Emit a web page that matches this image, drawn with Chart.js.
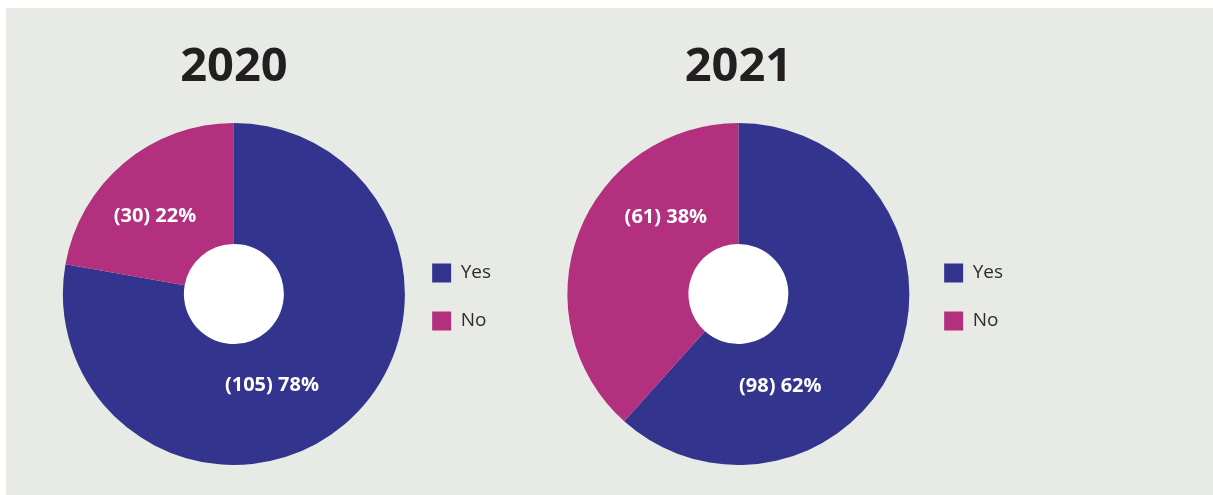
<!DOCTYPE html>
<html>
<head>
<meta charset="utf-8">
<script src="https://cdn.jsdelivr.net/npm/chart.js@4.4.0/dist/chart.umd.min.js"></script>
<style>
    body { margin: 0; background: #ffffff; }
    #panel { position: absolute; left: 6px; top: 8px; width: 1207px; height: 487px; background: #e8ebe5; }
    .box { position: absolute; top: 8px; width: 520px; height: 487px; }
</style>
</head>
<body>
<div id="panel"></div>
<div class="box" style="left: 6px;"><canvas id="chart2020"></canvas></div>
<div class="box" style="left: 512px;"><canvas id="chart2021"></canvas></div>

<script>
// data
const categories = ['Yes', 'No'];
const years = ['2020', '2021'];
const counts2020 = [105, 30];
const counts2021 = [98, 61];
const sliceColors = ['#33348e', '#b3307f'];

// white "(n) p%" text inside each slice
const sliceLabels = {
    id: 'sliceLabels',
    afterDatasetsDraw(chart, args, opts) {
        const meta = chart.getDatasetMeta(0);
        const data = chart.data.datasets[0].data;
        const total = data.reduce((a, b) => a + b, 0);
        const ctx = chart.ctx;
        ctx.save();
        ctx.font = 'bold 20px "Open Sans"';
        ctx.fillStyle = '#ffffff';
        ctx.textAlign = 'center';
        ctx.textBaseline = 'middle';
        meta.data.forEach((arc, i) => {
            const spot = opts.spots[i];
            const a = spot[0] * Math.PI / 180;
            const r = arc.outerRadius * spot[1];
            const pct = Math.round(data[i] / total * 100);
            ctx.fillText(`(${data[i]}) ${pct}%`, arc.x + Math.cos(a) * r, arc.y + Math.sin(a) * r);
        });
        ctx.restore();
    }
};

function makePie(canvasId, title, counts, padLeft, padRight, spots) {
    const ctx = document.getElementById(canvasId);
    return new Chart(ctx, {
        type: 'pie',
        data: {
            labels: categories,
            datasets: [
                {
                    data: counts,
                    backgroundColor: sliceColors,
                    borderWidth: 0,
                    weight: 121
                },
                {
                    // white centre disc
                    data: [1],
                    backgroundColor: ['#ffffff'],
                    borderWidth: 0,
                    weight: 50
                }
            ]
        },
        options: {
            responsive: true,
            maintainAspectRatio: false,
            animation: false,
            radius: 171,
            layout: {
                padding: { left: padLeft, right: padRight, top: 0, bottom: 8 }
            },
            plugins: {
                title: {
                    display: true,
                    text: title,
                    fullSize: false,
                    color: '#231f20',
                    font: { family: 'Open Sans', size: 47, weight: 'bold' },
                    padding: { top: 31, bottom: 5.6 }
                },
                legend: {
                    position: 'right',
                    align: 'center',
                    fullSize: false,
                    // empty title just nudges the items down a few px
                    title: { display: true, text: '', padding: 0, font: { size: 5, lineHeight: 1.2 } },
                    labels: {
                        boxWidth: 19,
                        boxHeight: 19,
                        padding: 29,
                        color: '#2d2d2d',
                        font: { family: 'Open Sans', size: 19 }
                    }
                },
                tooltip: { enabled: false },
                sliceLabels: { spots: spots }
            }
        },
        plugins: [sliceLabels]
    });
}

makePie('chart2020', years[0], counts2020, 58.6, 25, [[67.4, 0.579], [224.5, 0.647]]);
makePie('chart2021', years[1], counts2021, 49.6, 19, [[65.5, 0.591], [226.5, 0.616]]);
</script>
</body>
</html>
